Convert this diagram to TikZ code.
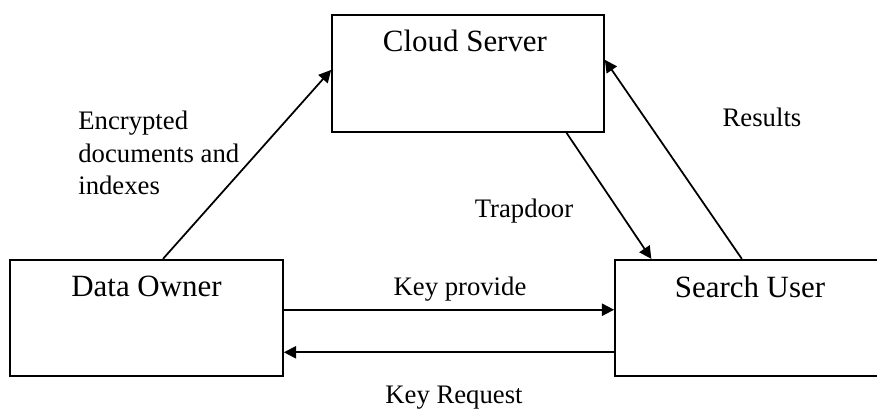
\documentclass[tikz,border=0pt]{standalone}
\usepackage{fontspec}
\setmainfont{Liberation Serif}
\usetikzlibrary{arrows.meta,calc}
\tikzset{
    party/.style={draw, thick, line width=1pt, inner sep=0pt, minimum width=#1*0.02cm, minimum height=2.33cm},
    title/.style={font=\fontsize{17.6}{20}\selectfont, anchor=north, inner sep=0pt},
    msg/.style={font=\fontsize{15.2}{18.6}\selectfont, inner sep=0pt, align=left},
    flow/.style={-{Triangle[length=7pt,width=7pt]}, line width=1pt}
}
\begin{document}
\begin{tikzpicture}[x=0.02cm, y=-0.02cm]
    \clip (0,0) rectangle (877,410);

    % Draw boxes
    \node [party=272, minimum height=2.34cm] (cloud) at (468, 73.5) {};
    \node [party=273] (owner) at (146.5, 318) {};
    \node [party=270] (user) at (750, 318) {};
    \node [title] (tcloud) at ($(cloud.north)+(-3,16)$) {Cloud Server};
    \node [title] (towner) at ($(owner.north)+(0,17)$) {Data Owner};
    \node [title] (tuser) at ($(user.north)+(0,17)$) {Search User};

    % Draw flows
    \draw [flow] ($(owner.north west)!0.56!(owner.north east)$) -- ($(cloud.north west)!0.47!(cloud.south west)$);
    \draw [flow] ($(cloud.south west)!0.86!(cloud.south east)$) -- ($(user.north west)!0.137!(user.north east)$);
    \draw [flow] ($(user.north west)!0.47!(user.north east)$) -- ($(cloud.north east)!0.385!(cloud.south east)$);
    \draw [flow] ($(owner.north east)!0.43!(owner.south east)$) -- ($(user.north west)!0.43!(user.south west)$);
    \draw [flow] ($(user.north west)!0.79!(user.south west)$) -- ($(owner.north east)!0.79!(owner.south east)$);

    % Labels
    \node [msg, anchor=west] (lenc) at (78, 153) {Encrypted\\documents and\\indexes};
    \node [msg] (lres) at (762, 117) {Results};
    \node [msg] (ltrap) at (524, 211) {Trapdoor};
    \node [msg] (lprov) at (460, 289) {Key provide};
    \node [msg] (lreq) at (454, 398) {Key Request};
\end{tikzpicture}
\end{document}
